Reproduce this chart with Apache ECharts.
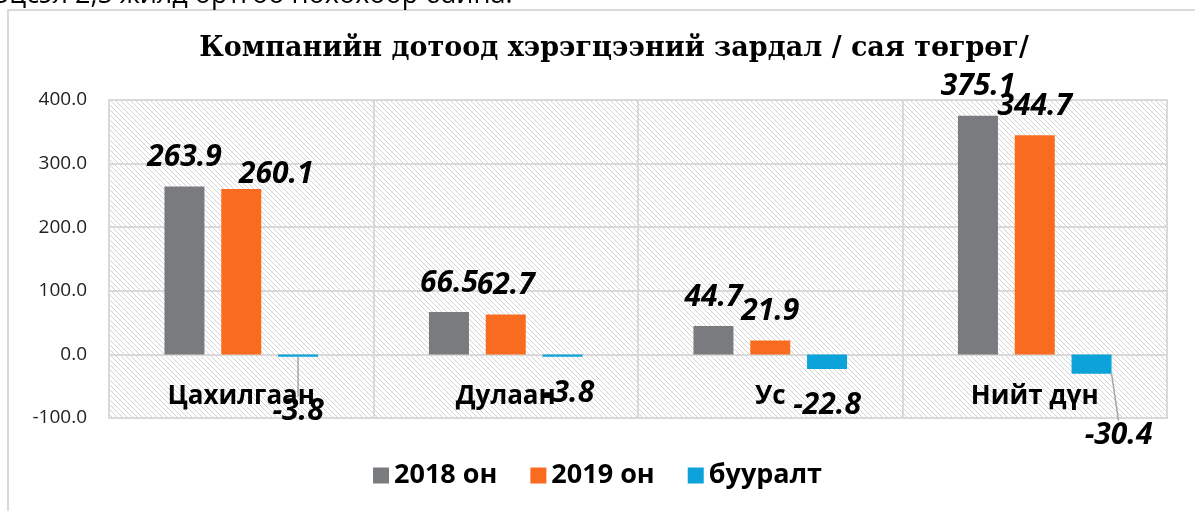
<!DOCTYPE html>
<html>
<head>
<meta charset="utf-8">
<script src="https://cdn.jsdelivr.net/npm/echarts@6/dist/echarts.min.js"></script>
<style>
  html, body { margin: 0; padding: 0; background: #fff; }
  #chart { width: 1195px; height: 511px; }
</style>
</head>
<body>
<div id="chart"></div>
<script>
// ---- data ----
const categories = ['Цахилгаан', 'Дулаан', 'Ус', 'Нийт дүн'];
const seriesNames = ['2018 он', '2019 он', 'бууралт'];
const values2018 = [263.9, 66.5, 44.7, 375.1];
const values2019 = [260.1, 62.7, 21.9, 344.7];
const valuesChange = [-3.8, -3.8, -22.8, -30.4];
const yMin = -100, yMax = 400, yInterval = 100;
const titleText = 'Компанийн дотоод хэрэгцээний зардал / сая төгрөг/';
const topText = 'эцсэл 2,5 жилд өртгөө нөхөхөөр байна.';

// ---- label layout tweaks (manual Excel label placement) ----
const labelShift2019 = [{dx: 35, dy: 14}, null, null, null];
const labelShiftChange = [{dx: 0, dy: 18, line: true}, {dx: 6, dy: 0}, null, {dx: 27, dy: 25, line: true}];

// ---- hatch pattern for plot background ----
const tile = document.createElement('canvas');
tile.width = 5; tile.height = 5;
const g = tile.getContext('2d');
g.fillStyle = '#ffffff';
g.fillRect(0, 0, 5, 5);
g.strokeStyle = '#d4d4d4';
g.lineWidth = 1;
g.beginPath();
g.moveTo(-1, -1); g.lineTo(6, 6);
g.moveTo(-1, 4); g.lineTo(1, 6);
g.moveTo(4, -1); g.lineTo(6, 1);
g.stroke();

const chart = echarts.init(document.getElementById('chart'));
const valueLabel = {
  show: true,
  color: '#000',
  fontFamily: 'Open Sans',
  fontWeight: 'bold',
  fontStyle: 'italic',
  fontSize: 30,
  formatter: p => p.value.toFixed(1)
};

function shiftFn(shifts) {
  return function (params) {
    const s = shifts[params.dataIndex];
    if (!s) return {};
    return { dx: s.dx, dy: s.dy };
  };
}

chart.setOption({
  animation: false,
  title: {
    text: titleText,
    left: 609,
    textAlign: 'center',
    top: 30,
    textStyle: { fontFamily: 'DejaVu Serif', fontWeight: 'bold', fontSize: 27, color: '#000' }
  },
  graphic: [
    { type: 'rect', z: -10, silent: true,
      shape: { x: 8, y: 10, width: 1400, height: 700 },
      style: { fill: 'none', stroke: '#d9d9d9', lineWidth: 2 } },
    { type: 'text', silent: true, x: -4, y: 9,
      style: { text: topText, fill: '#000', font: '27px "Open Sans"', verticalAlign: 'bottom' } }
  ],
  legend: {
    data: seriesNames,
    left: 'center',
    top: 457,
    itemWidth: 16, itemHeight: 16, itemGap: 33,
    icon: 'rect',
    textStyle: { fontFamily: 'Open Sans', fontWeight: 'bold', fontSize: 27, color: '#000' }
  },
  grid: {
    left: 109, right: 28, top: 100, bottom: 93,
    show: true,
    backgroundColor: { image: tile, repeat: 'repeat' },
    borderColor: '#d9d9d9', borderWidth: 2
  },
  xAxis: {
    type: 'category',
    data: categories,
    axisLine: { lineStyle: { color: '#d9d9d9', width: 2 } },
    axisTick: { show: false },
    splitLine: { show: true, lineStyle: { color: '#d9d9d9', width: 2 } },
    axisLabel: { color: '#000', fontFamily: 'Open Sans', fontWeight: 'bold', fontSize: 26, margin: -34 }
  },
  yAxis: {
    type: 'value',
    min: yMin, max: yMax, interval: yInterval,
    axisLine: { show: false },
    axisTick: { show: false },
    splitLine: { lineStyle: { color: '#d9d9d9', width: 2 } },
    axisLabel: { color: '#222', fontFamily: 'Open Sans', fontSize: 19, margin: 22,
      formatter: v => v.toFixed(1) }
  },
  series: [
    { name: seriesNames[0], type: 'bar', data: values2018,
      itemStyle: { color: '#7a7b7f' },
      barWidth: 40, barGap: '42%',
      label: Object.assign({}, valueLabel, { position: 'top', distance: 14 }) },
    { name: seriesNames[1], type: 'bar', data: values2019,
      itemStyle: { color: '#f96b1e' },
      barWidth: 40, barGap: '42%',
      label: Object.assign({}, valueLabel, { position: 'top', distance: 14 }),
      labelLayout: shiftFn(labelShift2019) },
    { name: seriesNames[2], type: 'bar',
      data: valuesChange.map((v, i) => ({
        value: v,
        labelLine: { show: !!(labelShiftChange[i] && labelShiftChange[i].line) }
      })),
      itemStyle: { color: '#0ba3da' },
      barWidth: 40, barGap: '42%',
      label: Object.assign({}, valueLabel, { position: 'bottom', distance: 22 }),
      labelLine: { show: false, lineStyle: { color: '#a6a6a6', width: 1.5 } },
      labelLayout: shiftFn(labelShiftChange) }
  ]
});
</script>
</body>
</html>
